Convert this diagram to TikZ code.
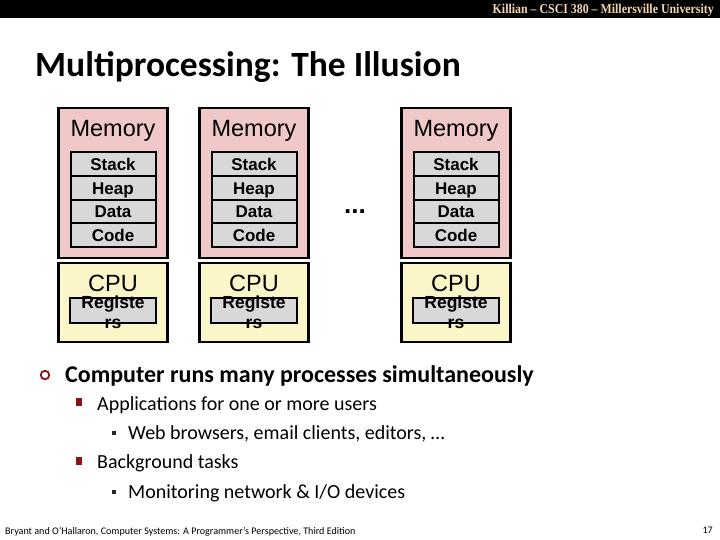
\documentclass[tikz,border=0pt]{standalone}
\usepackage{fontspec}
\setmainfont{Carlito}
\newfontfamily\arialfont{Liberation Sans}
\newfontfamily\headfont[FakeStretch=0.88]{Liberation Serif}
\usetikzlibrary{positioning}
\definecolor{mempink}{RGB}{240,200,200}
\definecolor{cpuyellow}{RGB}{250,246,200}
\definecolor{seggray}{RGB}{216,216,216}
\definecolor{bulletred}{RGB}{140,20,20}
\definecolor{headtan}{RGB}{240,215,170}

\begin{document}
\begin{tikzpicture}[x=1pt, y=-1pt,
  membox/.style={draw, line width=2.5pt, fill=mempink, minimum width=109pt, minimum height=150pt, outer sep=0pt},
  cpubox/.style={draw, line width=2.5pt, fill=cpuyellow, minimum width=109pt, minimum height=79pt, outer sep=0pt},
  segbox/.style={draw, line width=2pt, fill=seggray, minimum width=85pt, minimum height=23.75pt,
                 text height=13pt, text depth=0pt, inner sep=0pt, outer sep=0pt,
                 font=\arialfont\bfseries\fontsize{17}{17}\selectfont},
  regbox/.style={draw, line width=2.5pt, fill=seggray, minimum width=86pt, minimum height=25pt, outer sep=0pt},
  boxlbl/.style={anchor=base, font=\arialfont\fontsize{23.5}{24}\selectfont, inner sep=0pt},
  reglbl/.style={font=\arialfont\bfseries\fontsize{17.5}{20}\selectfont, align=center, inner sep=0pt},
  lvlone/.style={anchor=base west, inner sep=0pt, font=\bfseries\fontsize{24}{26}\selectfont},
  lvltwo/.style={anchor=base west, inner sep=0pt, font=\fontsize{20}{22}\selectfont},
  redsq/.style={fill=bulletred, minimum width=6pt, minimum height=8pt, inner sep=0pt},
  blksq/.style={fill=black!85, minimum size=4.5pt, inner sep=0pt},
  node distance=0pt]
\useasboundingbox (0,0) rectangle (720,540);
\fill[white] (0,0) rectangle (720,540);
\fill[black] (0,0) rectangle (720,18);
\node[anchor=base east, inner sep=0pt, text=headtan, font=\headfont\bfseries\fontsize{13.5}{14}\selectfont]
  (head) at (714,14) {Killian – CSCI 380 – Millersville University};
\node[anchor=base west, inner sep=0pt, font=\bfseries\fontsize{35.5}{38}\selectfont]
  (title) at (35,77) {Multiprocessing: The Illusion};

% one memory + cpu pair per process
\foreach \c/\x in {a/113, b/254, c/456}{
  \node[membox] (mem\c) at (\x,183) {};
  \node[boxlbl] (memtxt\c) at (\x,137) {Memory};
  \node[segbox] (stack\c) at (\x,164) {Stack};
  \node[segbox, below=of stack\c] (heap\c) {Heap};
  \node[segbox, below=of heap\c] (data\c) {Data};
  \node[segbox, below=of data\c] (code\c) {Code};
  \node[cpubox] (cpu\c) at (\x,302.5) {};
  \node[boxlbl] (cputxt\c) at (\x,291) {CPU};
  \node[regbox] (reg\c) at (\x,310.5) {};
  \node[reglbl] (regtxt\c) at (\x,312) {Registe\\rs};
}
\node[font=\arialfont\bfseries\fontsize{26}{26}\selectfont, inner sep=0pt, anchor=base] (dots) at (355,214) {...};

% bullet list
\node[circle, draw=bulletred, line width=1.8pt, minimum size=8.5pt, inner sep=0pt] (b1) at (45,375) {};
\node[lvlone] (t1) at (65,382) {Computer runs many processes simultaneously};
\node[redsq] (b2) at (79,402) {};
\node[lvltwo] (t2) at (97,410) {Applications for one or more users};
\node[blksq] (b3) at (114,433) {};
\node[lvltwo] (t3) at (128,439) {Web browsers, email clients, editors, \dots};
\node[redsq] (b4) at (79,461) {};
\node[lvltwo] (t4) at (97,468) {Background tasks};
\node[blksq] (b5) at (114,492) {};
\node[lvltwo] (t5) at (128,498) {Monitoring network \& I/O devices};

\node[anchor=base west, inner sep=0pt, font=\fontsize{10.1}{11}\selectfont] (foot) at (5,534)
  {Bryant and O'Hallaron, Computer Systems: A Programmer's Perspective, Third Edition};
\node[anchor=base east, inner sep=0pt, font=\fontsize{10}{11}\selectfont] (page) at (713,533) {17};
\end{tikzpicture}
\end{document}
